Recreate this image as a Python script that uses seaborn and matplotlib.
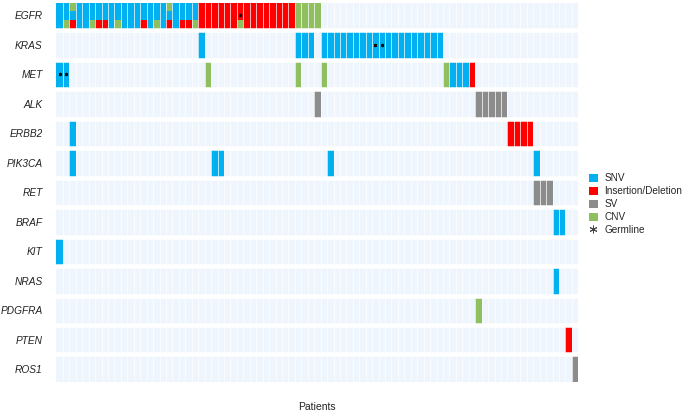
import matplotlib
matplotlib.use("Agg")
import matplotlib.pyplot as plt
import numpy as np
import seaborn as sns
from matplotlib.colors import ListedColormap
from matplotlib.lines import Line2D
from matplotlib.patches import Patch

# data: (patient index, alteration types stacked top -> bottom)
n_patients = 81
genes = ["EGFR", "KRAS", "MET", "ALK", "ERBB2", "PIK3CA", "RET",
         "BRAF", "KIT", "NRAS", "PDGFRA", "PTEN", "ROS1"]

egfr = [(0, "SNV"), (1, "SNV/CNV"), (2, "CNV/SNV/Indel"), (3, "SNV"), (4, "SNV"),
        (5, "SNV/CNV"), (6, "SNV/Indel"), (7, "SNV/Indel"), (8, "SNV"), (9, "SNV/CNV"),
        (10, "SNV"), (11, "SNV"), (12, "SNV"), (13, "SNV/Indel"), (14, "SNV"),
        (15, "SNV/CNV"), (16, "SNV"), (17, "CNV/SNV/Indel"), (18, "SNV"),
        (19, "SNV/Indel"), (20, "SNV/Indel"), (21, "SNV/CNV"),
        (22, "Indel"), (23, "Indel"), (24, "Indel"), (25, "Indel"), (26, "Indel"),
        (27, "Indel"), (28, "Indel/CNV"), (29, "Indel"), (30, "Indel"), (31, "Indel"),
        (32, "Indel"), (33, "Indel"), (34, "Indel"), (35, "Indel"), (36, "Indel"),
        (37, "CNV"), (38, "CNV"), (39, "CNV"), (40, "CNV")]
kras = [(22, "SNV"), (37, "SNV"), (38, "SNV"), (39, "SNV"), (41, "SNV"), (42, "SNV"),
        (43, "SNV"), (44, "SNV"), (45, "SNV"), (46, "SNV"), (47, "SNV"), (48, "SNV"),
        (49, "SNV"), (50, "SNV"), (51, "SNV"), (52, "SNV"), (53, "SNV"), (54, "SNV"),
        (55, "SNV"), (56, "SNV"), (57, "SNV"), (58, "SNV"), (59, "SNV")]
met = [(0, "SNV"), (1, "SNV"), (23, "CNV"), (37, "CNV"), (41, "CNV"), (60, "CNV"),
       (61, "SNV"), (62, "SNV"), (63, "SNV"), (64, "Indel")]
alk = [(40, "SV"), (65, "SV"), (66, "SV"), (67, "SV"), (68, "SV"), (69, "SV")]
erbb2 = [(2, "SNV"), (70, "Indel"), (71, "Indel"), (72, "Indel"), (73, "Indel")]
pik3ca = [(2, "SNV"), (24, "SNV"), (25, "SNV"), (42, "SNV"), (74, "SNV")]
ret = [(74, "SV"), (75, "SV"), (76, "SV")]
braf = [(77, "SNV"), (78, "SNV")]
kit = [(0, "SNV")]
nras = [(77, "SNV")]
pdgfra = [(65, "CNV")]
pten = [(79, "Indel")]
ros1 = [(80, "SV")]
gene_cells = [egfr, kras, met, alk, erbb2, pik3ca, ret, braf, kit, nras, pdgfra, pten, ros1]

# germline markers: (gene, patient)
germline = [("EGFR", 28), ("KRAS", 49), ("KRAS", 50), ("MET", 0), ("MET", 1)]

types = ["SNV", "Indel", "SV", "CNV"]
type_labels = ["SNV", "Insertion/Deletion", "SV", "CNV"]
colors = ["#00B0F0", "#FF0000", "#8C8C8C", "#8FBF5F"]
bg = "#EEF5FD"

sns.set_theme(style="white")
plt.rcParams["font.family"] = ["Liberation Sans", "DejaVu Sans"]

# each gene row is split into 3 sub-rows so cells can hold several alterations
mat = np.zeros((3 * len(genes), n_patients))
for gi, cells in enumerate(gene_cells):
    for col, kinds in cells:
        parts = kinds.split("/")
        if len(parts) == 1:
            rows = [[0, 1, 2]]
        elif len(parts) == 2:
            rows = [[0, 1], [2]]
        else:
            rows = [[0], [1], [2]]
        for p, rr in zip(parts, rows):
            for r in rr:
                mat[3 * gi + r, col] = types.index(p) + 1

fig = plt.figure(figsize=(6.85, 4.11), dpi=100)
ax = fig.add_axes([56.5 / 685, 1 - 381.7 / 411, 521.8 / 685, 378.7 / 411])
cmap = ListedColormap([bg] + colors)
sns.heatmap(mat, cmap=cmap, vmin=-0.5, vmax=4.5, cbar=False, ax=ax,
            xticklabels=False, yticklabels=False)

for c in range(1, n_patients):
    ax.axvline(c, color="white", lw=0.5)
for b in range(3, 3 * len(genes), 3):
    ax.axhline(b, color="white", lw=3.24)

gx = [p + 0.5 for g, p in germline]
gy = [genes.index(g) * 3 + 1.5 for g, p in germline]
ax.scatter(gx, gy, marker=(6, 2, 0), s=3.5, color="#111111", linewidths=0.7, zorder=5)

ax.set_ylim(3 * len(genes) - 0.229, 0.229)
ax.set_xlim(0, n_patients)
ax.set_yticks([3 * i + 1.5 for i in range(len(genes))])
ax.set_yticklabels(genes, fontsize=7.3, style="italic", color="#222222")
ax.tick_params(axis="y", length=0, pad=10)
for s in ax.spines.values():
    s.set_visible(False)

fig.text(317 / 685, 1 - 407 / 411, "Patients", ha="center", va="center",
         fontsize=7.5, color="#222222")

handles = [Patch(facecolor=c, edgecolor="none", label=l) for c, l in zip(colors, type_labels)]
handles.append(Line2D([], [], marker=(6, 2, 0), linestyle="none", color="#444444",
                      markersize=5.5, markeredgewidth=0.7, label="Germline"))
fig.legend(handles=handles, loc="upper left", bbox_to_anchor=(589 / 685, 1 - 173 / 411),
           frameon=False, fontsize=7.2, handlelength=0.85, handleheight=0.85,
           handletextpad=0.7, labelspacing=0.3, borderaxespad=0, borderpad=0)

fig.savefig("out.png", dpi=100)
